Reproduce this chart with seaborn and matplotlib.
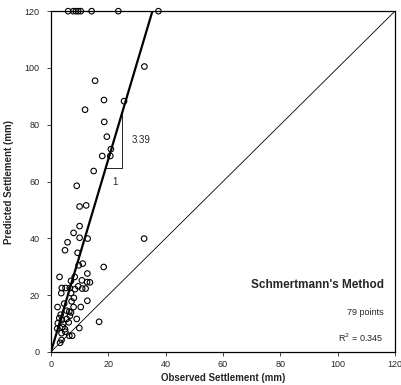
import matplotlib
matplotlib.use("Agg")
import matplotlib.pyplot as plt
import seaborn as sns
import pandas as pd

# observed / predicted settlement (mm)
observed = [
    6.0, 7.8, 8.7, 9.5, 10.4, 14.2, 23.5, 37.5,
    15.4, 32.6, 18.5, 25.5, 11.9, 18.6, 19.5, 20.9, 17.9, 20.7, 14.9, 9.0, 10.0, 12.3,
    10.0, 7.9, 10.0, 12.8, 5.8, 4.9, 9.3, 9.7, 11.1, 18.4, 12.7, 3.0, 8.3, 7.0, 10.8,
    12.6, 13.6, 32.5, 16.8,
    3.8, 5.1, 6.6, 8.4, 9.5, 10.9, 12.1, 3.6, 7.0, 7.2, 12.7, 2.3, 7.9, 10.4,
    5.5, 6.4, 7.0, 3.4, 6.6, 2.9, 3.8, 5.5, 9.0, 2.4, 4.3, 6.2, 9.9, 2.2, 4.9,
    3.7, 6.4, 7.4, 3.7, 3.2, 4.0, 5.0, 8.0, 4.6,
]
predicted = [
    120, 120, 120, 120, 120, 120, 120, 120,
    95.5, 100.5, 88.7, 88.3, 85.3, 81.0, 75.8, 71.4, 69.0, 69.0, 63.7, 58.5, 51.2, 51.6,
    44.3, 41.9, 40.2, 39.9, 38.6, 35.8, 34.9, 30.5, 31.1, 29.9, 27.6, 26.4, 26.4, 25.0, 25.2,
    24.6, 24.5, 39.9, 10.6,
    22.5, 22.5, 22.5, 22.1, 23.1, 22.3, 22.3, 20.7, 20.7, 17.8, 18.0, 15.8, 15.8, 15.8,
    14.5, 14.2, 13.9, 13.1, 12.7, 11.9, 11.3, 11.6, 11.6, 10.1, 9.9, 10.4, 8.4, 8.2, 8.0,
    6.6, 5.7, 5.7, 4.2, 3.2, 8.8, 7.1, 19.0, 17.0,
]
slope = 3.39
axis_max = 120
ticks = [0, 20, 40, 60, 80, 100, 120]

df = pd.DataFrame({"observed": observed, "predicted": predicted})

sns.set_style("white")
plt.rcParams["font.family"] = ["Liberation Sans", "DejaVu Sans"]

fig = plt.figure(figsize=(4.01, 3.85), dpi=100)
ax = fig.add_axes([0.127, 0.086, 0.858, 0.885])

# 1:1 line
sns.lineplot(x=[0, axis_max], y=[0, axis_max], color="black", lw=0.6, ax=ax)
# best fit through origin
sns.lineplot(x=[0, axis_max / slope], y=[0, axis_max], color="black", lw=1.6, ax=ax)

sns.scatterplot(data=df, x="observed", y="predicted", marker="o", s=16,
                facecolor="none", edgecolor="black", linewidth=0.8, ax=ax,
                clip_on=False, zorder=3)

# slope triangle
y_low, y_high = 64.9, 83.7
x_low, x_high = y_low / slope, y_high / slope
ax.plot([x_low, x_high, x_high], [y_low, y_low, y_high], color="black", lw=0.6)
ax.text(x_high + 3.5, (y_low + y_high) / 2 + 0.5, f"{slope:.2f}", fontsize=7,
        va="center", ha="left")
ax.text((x_low + x_high) / 2 + 0.5, y_low - 5, "1", fontsize=7, ha="center", va="center")

ax.text(116, 23.7, "Schmertmann's Method", fontsize=8.5, fontweight="bold",
        ha="right", va="center")
ax.text(116, 13.8, "79 points", fontsize=6.5, ha="right", va="center")
ax.text(116, 5.0, "R$^2$ = 0.345", fontsize=6.5, ha="right", va="center")

ax.set_xlim(0, axis_max)
ax.set_ylim(0, axis_max)
ax.set_xticks(ticks)
ax.set_yticks(ticks)
ax.tick_params(labelsize=6.5, length=3, width=0.6, direction="out",
               bottom=True, left=True)
ax.tick_params(axis="x", pad=3)
ax.tick_params(axis="y", pad=5)
ax.set_xlabel("Observed Settlement (mm)", fontsize=7, fontweight="bold", labelpad=3)
ax.set_ylabel("Predicted Settlement (mm)", fontsize=7, fontweight="bold", labelpad=8)
for s in ax.spines.values():
    s.set_color("black")
    s.set_linewidth(0.9)

fig.savefig("out.png", dpi=100)
